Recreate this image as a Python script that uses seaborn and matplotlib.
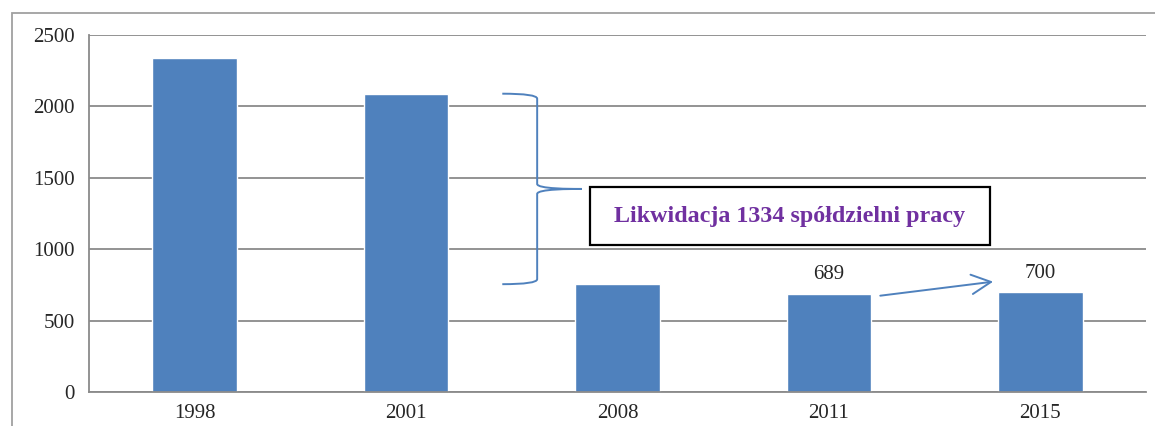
import matplotlib
matplotlib.use("Agg")
import matplotlib.pyplot as plt
import seaborn as sns
import pandas as pd
from matplotlib.patches import FancyArrowPatch, Rectangle
from matplotlib.path import Path
from matplotlib.patches import PathPatch

years = ["1998", "2001", "2008", "2011", "2015"]
values = [2340, 2089, 755, 689, 700]
labelled = {"2011": 689, "2015": 700}
note = "Likwidacja 1334 spółdzielni pracy"
yticks = [0, 500, 1000, 1500, 2000, 2500]

BLUE = "#4F81BD"
GRID = "#8A8A8A"

sns.set_theme(style="white")
plt.rcParams["font.family"] = ["Liberation Serif", "DejaVu Serif"]

df = pd.DataFrame({"year": years, "value": values})

fig = plt.figure(figsize=(11.55, 4.26), dpi=100)
ax = fig.add_axes([89 / 1155, 1 - 392 / 426, (1146 - 89) / 1155, (392 - 35) / 426])

sns.barplot(data=df, x="year", y="value", color=BLUE, saturation=1, width=0.4, ax=ax)

ax.set_xlim(-0.5, len(years) - 0.5)
ax.set_ylim(0, 2500)
ax.set_yticks(yticks)
ax.set_yticklabels([str(t) for t in yticks], fontsize=15)
ax.set_xlabel("")
ax.set_ylabel("")
ax.grid(axis="y", color=GRID, linewidth=1.3)
ax.set_axisbelow(True)
for s in ["top", "right"]:
    ax.spines[s].set_visible(False)
for s in ["left", "bottom"]:
    ax.spines[s].set_color(GRID)
    ax.spines[s].set_linewidth(1.3)

ax.tick_params(axis="x", which="major", length=0, labelsize=15, pad=9)
ax.set_xticks([i - 0.5 for i in range(len(years) + 1)], minor=True)
ax.tick_params(axis="x", which="minor", length=6, color=GRID, width=1.3, direction="out")
ax.tick_params(axis="y", length=6, color=GRID, width=1.3, direction="out", pad=4)

# value labels
for i, y in enumerate(years):
    if y in labelled:
        ax.text(i, labelled[y] + 65, str(labelled[y]), ha="center", va="bottom", fontsize=15)

# arrow from 2011 to 2015 label
i11, i15 = years.index("2011"), years.index("2015")
arr = FancyArrowPatch((i11 + 0.23, values[i11] - 17), (i15 - 0.21, values[i15] + 75),
                      arrowstyle="->,head_length=14,head_width=7", color=BLUE, lw=1.4,
                      mutation_scale=1)
ax.add_patch(arr)

# curly brace from 2001 value down to 2008 value
top, bot = values[1], values[2]
mid = (top + bot) / 2
x0, xv, xt = 1.455, 1.62, 1.83
r = 35
verts = [
    (x0, top), (xv, top), (xv, top - r),
    (xv, mid + r),
    (xv, mid), (xt - 0.05, mid), (xt, mid),
    (xt - 0.05, mid), (xv, mid), (xv, mid - r),
    (xv, bot + r),
    (xv, bot), (x0, bot), (x0, bot),
]
codes = [Path.MOVETO, Path.CURVE3, Path.CURVE3,
         Path.LINETO,
         Path.CURVE4, Path.CURVE4, Path.CURVE4,
         Path.CURVE4, Path.CURVE4, Path.CURVE4,
         Path.LINETO,
         Path.CURVE3, Path.CURVE3, Path.LINETO]
ax.add_patch(PathPatch(Path(verts, codes), fill=False, edgecolor=BLUE, lw=1.4))

# note box
ax.add_patch(Rectangle((1.87, 1030), 3.76 - 1.87, 1435 - 1030, fill=True, facecolor="white",
                       edgecolor="black", lw=1.6, zorder=3))
ax.text((1.87 + 3.76) / 2, 1232, note, ha="center", va="center", fontsize=17.3,
        fontweight="bold", color="#7030A0", zorder=4)

# outer chart frame
fig.add_artist(Rectangle((12 / 1155, -0.1), 1.2, 1 - 13 / 426 + 0.1, transform=fig.transFigure,
                         fill=False, edgecolor="#A0A0A0", lw=1.3))

fig.savefig("out.png", dpi=100)
